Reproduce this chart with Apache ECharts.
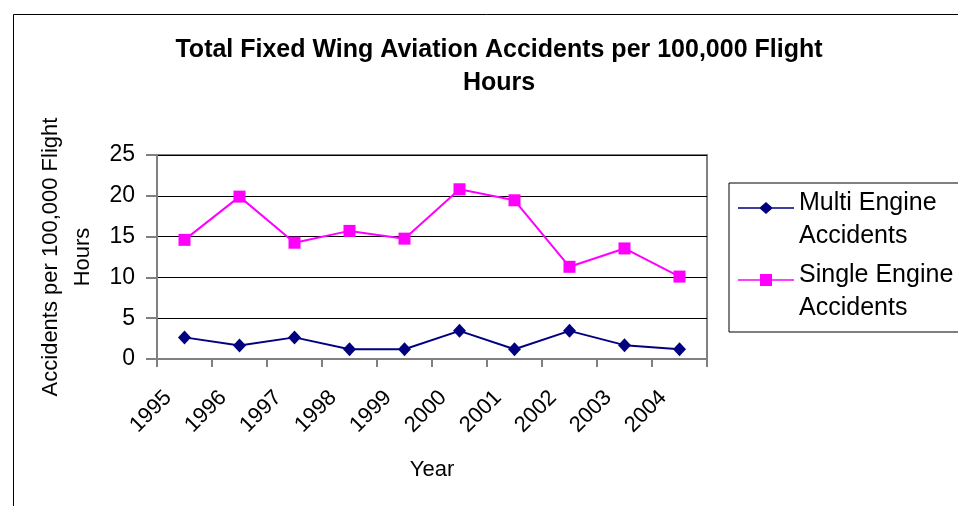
<!DOCTYPE html>
<html>
<head>
<meta charset="utf-8">
<script src="https://cdn.jsdelivr.net/npm/echarts@6/dist/echarts.min.js"></script>
<style>
  html, body { margin: 0; padding: 0; background: #fff; }
  #chart { width: 958px; height: 506px; }
</style>
</head>
<body>
<div id="chart"></div>
<script>
var years = ['1995', '1996', '1997', '1998', '1999', '2000', '2001', '2002', '2003', '2004'];
var multiEngine = [2.65, 1.65, 2.65, 1.2, 1.2, 3.45, 1.2, 3.45, 1.7, 1.2];
var singleEngine = [14.6, 19.9, 14.25, 15.7, 14.75, 20.8, 19.45, 11.3, 13.55, 10.1];

var font = '"Liberation Sans", Arial, sans-serif';

// legend icons: line + marker drawn near the first text line (extra point at y=36 keeps the box tall)
var diamondIcon = 'path://M0 5.3L22 5.3L28 0L34 5.3L56 5.3L56 6.7L34 6.7L28 12L22 6.7L0 6.7ZM0 36L0 36';
var squareIcon = 'path://M0 5.3L22 5.3L22 0L34 0L34 5.3L56 5.3L56 6.7L34 6.7L34 12L22 12L22 6.7L0 6.7ZM0 36L0 36';

var myChart = echarts.init(document.getElementById('chart'));
var option = {
  animation: false,
  textStyle: { fontFamily: font, color: '#000' },
  title: {
    text: 'Total Fixed Wing Aviation Accidents per 100,000 Flight\nHours',
    left: 494,
    top: 29,
    textAlign: 'center',
    textStyle: { fontFamily: font, fontSize: 25, fontWeight: 'bold', color: '#000', lineHeight: 33 }
  },
  graphic: [{
    type: 'rect',
    left: 11,
    top: 12,
    shape: { width: 1000, height: 600 },
    style: { fill: 'none', stroke: '#000', lineWidth: 1 },
    silent: true
  }],
  legend: {
    orient: 'vertical',
    left: 729,
    top: 183,
    padding: [4, 60, 7, 9],
    itemGap: 6,
    itemWidth: 56,
    itemHeight: 36,
    borderColor: '#000',
    borderWidth: 1,
    textStyle: { fontFamily: font, fontSize: 25, color: '#000', lineHeight: 33 },
    data: [
      { name: 'Multi Engine\nAccidents', icon: diamondIcon },
      { name: 'Single Engine\nAccidents', icon: squareIcon }
    ]
  },
  grid: {
    left: 157,
    right: 251,
    top: 155,
    bottom: 147,
    show: true,
    borderColor: '#808080',
    borderWidth: 2,
    containLabel: false
  },
  xAxis: {
    type: 'category',
    data: years,
    boundaryGap: true,
    name: 'Year',
    nameLocation: 'middle',
    nameGap: 100,
    nameTextStyle: { fontFamily: font, fontSize: 22, color: '#000' },
    axisLine: { lineStyle: { color: '#808080', width: 2 } },
    axisTick: { show: true, length: 8, alignWithLabel: false, lineStyle: { color: '#808080', width: 2 } },
    axisLabel: { rotate: 45, fontSize: 22, color: '#000', margin: 19, padding: [0, 23, 0, 0], fontFamily: font },
    splitLine: { show: false }
  },
  yAxis: {
    type: 'value',
    min: 0,
    max: 25,
    interval: 5,
    name: 'Accidents per 100,000 Flight\nHours',
    nameLocation: 'middle',
    nameRotate: 90,
    nameGap: 58,
    nameTextStyle: { fontFamily: font, fontSize: 22, color: '#000', lineHeight: 32 },
    axisLine: { show: true, lineStyle: { color: '#808080', width: 2 } },
    axisTick: { show: true, length: 11, lineStyle: { color: '#808080', width: 2 } },
    axisLabel: { fontSize: 23, color: '#000', margin: 22, fontFamily: font },
    splitLine: { show: true, lineStyle: { color: '#000', width: 1 } }
  },
  series: [
    {
      name: 'Multi Engine\nAccidents',
      type: 'line',
      data: multiEngine,
      symbol: 'diamond',
      symbolSize: [13, 14],
      itemStyle: { color: '#000080' },
      lineStyle: { color: '#000080', width: 2 }
    },
    {
      name: 'Single Engine\nAccidents',
      type: 'line',
      data: singleEngine,
      symbol: 'rect',
      symbolSize: 12,
      itemStyle: { color: '#FF00FF' },
      lineStyle: { color: '#FF00FF', width: 2 }
    }
  ]
};
option && myChart.setOption(option);
</script>
</body>
</html>
